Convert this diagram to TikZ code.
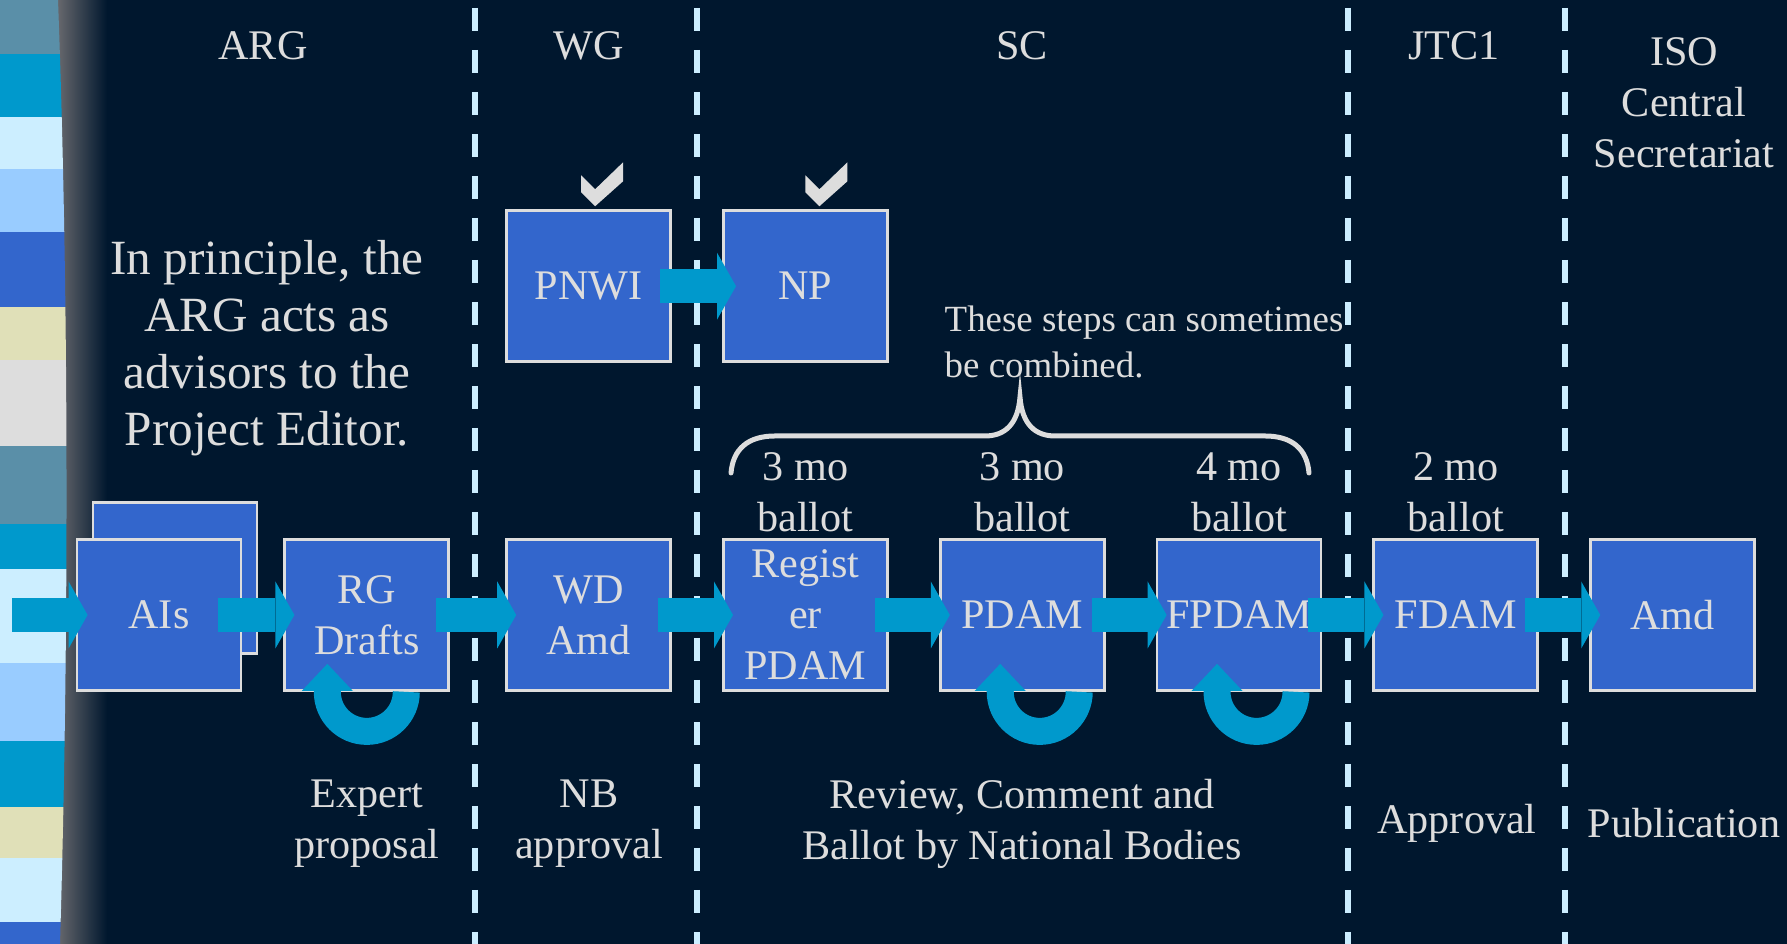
\documentclass[tikz,border=0pt]{standalone}
\usepackage{fontspec}
\setmainfont{Liberation Serif}
\usetikzlibrary{arrows.meta,positioning,calc}

\definecolor{isonavy}{HTML}{00172E}
\definecolor{isoshadow}{HTML}{6C6C70}
\definecolor{isoblue}{HTML}{3366CC}
\definecolor{isocyan}{HTML}{0099CC}
\definecolor{isopale}{HTML}{CCEEFF}
\definecolor{isolight}{HTML}{99CCFF}
\definecolor{isoslate}{HTML}{5A8FA8}
\definecolor{isobeige}{HTML}{E0E0B8}
\definecolor{isogray}{HTML}{DDDDDD}
\definecolor{isofg}{HTML}{DDDDDD}

\begin{document}
\begin{tikzpicture}[x=0.1mm,y=0.1mm,
    isobox/.style={draw=isogray,fill=isoblue,line width=0.8pt,inner sep=0pt,
        minimum width=16.4mm,minimum height=15.1mm,align=center,text=isofg,
        font=\fontsize{12}{14.5}\selectfont},
    isolabel/.style={text=isofg,align=center,inner sep=0pt,
        font=\fontsize{12}{14.5}\selectfont},
    isoarrow/.style={draw=isocyan,line width=3.4mm,
        -{Triangle[length=1.9mm,width=6.7mm,line width=0pt]}},
    isoloop/.style={draw=isocyan,line width=2.7mm,
        -{Triangle[length=2.7mm,width=5.1mm,line width=0pt]}},
    isodivider/.style={draw=isopale,line width=0.6mm,
        dash pattern=on 2.3mm off 1.9mm,dash phase=3.4mm},
    isocheck/.style={fill=isogray},
    isobrace/.style={draw=isogray,line width=0.5mm,line cap=round}
]
\useasboundingbox (0,0) rectangle (1787,944);
% background and side stripes
\fill[isonavy] (0,0) rectangle (1787,944);
\shade[left color=isoshadow,right color=isonavy] (55,0) rectangle (107,944);
\begin{scope}
\clip (0,0) -- (60,0) .. controls (69,300) and (69,650) .. (58,944) -- (0,944) -- cycle;
\fill[isoslate] (0,890) rectangle (70,944);
\fill[isocyan] (0,827) rectangle (70,890);
\fill[isopale] (0,775) rectangle (70,827);
\fill[isolight] (0,712) rectangle (70,775);
\fill[isoblue] (0,637) rectangle (70,712);
\fill[isobeige] (0,584) rectangle (70,637);
\fill[isogray] (0,498) rectangle (70,584);
\fill[isoslate] (0,420) rectangle (70,498);
\fill[isocyan] (0,375) rectangle (70,420);
\fill[isopale] (0,281) rectangle (70,375);
\fill[isolight] (0,203) rectangle (70,281);
\fill[isocyan] (0,137) rectangle (70,203);
\fill[isobeige] (0,86) rectangle (70,137);
\fill[isopale] (0,22) rectangle (70,86);
\fill[isoblue] (0,0) rectangle (70,22);
\end{scope}

% column dividers
\draw[isodivider] (475,944) -- (475,0);
\draw[isodivider] (697,944) -- (697,0);
\draw[isodivider] (1348,944) -- (1348,0);
\draw[isodivider] (1565,944) -- (1565,0);

% column heads
\node[isolabel] (arghead) at (263,898) {ARG};
\node[isolabel] (wghead) at (589,898) {WG};
\node[isolabel] (schead) at (1022,898) {SC};
\node[isolabel] (jtchead) at (1454,898) {JTC1};
\node[isolabel] (isohead) at (1684,841) {ISO\\Central\\Secretariat};

% stage boxes
\node[isobox] (aisback) at (175,366) {};
\node[isobox] (ais) at (159,329) {AIs};
\node[isobox,right=4.1mm of ais] (rg) {RG\\Drafts};
\node[isobox,right=5.5mm of rg] (wd) {WD\\Amd};
\node[isobox,right=5mm of wd] (reg) {Regist\\er\\PDAM};
\node[isobox,right=5mm of reg] (pdam) {PDAM};
\node[isobox,right=5mm of pdam] (fpdam) {FPDAM};
\node[isobox,right=5mm of fpdam] (fdam) {FDAM};
\node[isobox,right=5mm of fdam] (amd) {Amd};
\node[isobox,above=17.5mm of wd] (pnwi) {PNWI};
\node[isobox,right=5mm of pnwi] (np) {NP};

% ticks over the approved items
\fill[isocheck,shift={([xshift=0.65mm,yshift=0.3mm]pnwi.north)}]
    (-14,31) -- (0,17) -- (28,44) -- (28,25) -- (0,0) -- (-14,14) -- cycle;
\fill[isocheck,shift={([xshift=1.4mm,yshift=0.3mm]np.north)}]
    (-14,31) -- (0,17) -- (28,44) -- (28,25) -- (0,0) -- (-14,14) -- cycle;

% flow
\coordinate (entry) at (12,329);
\draw[isoarrow] (entry) -- ([xshift=1.2mm]ais.west);
\draw[isoarrow] ([xshift=-2.4mm]ais.east) -- ([xshift=1.1mm]rg.west);
\draw[isoarrow] ([xshift=-1.4mm]rg.east) -- ([xshift=1.1mm]wd.west);
\draw[isoarrow] ([xshift=-1.4mm]wd.east) -- ([xshift=1.1mm]reg.west);
\draw[isoarrow] ([xshift=-1.4mm]reg.east) -- ([xshift=1.1mm]pdam.west);
\draw[isoarrow] ([xshift=-1.4mm]pdam.east) -- ([xshift=1.1mm]fpdam.west);
\draw[isoarrow] ([xshift=-1.4mm]fpdam.east) -- ([xshift=1.1mm]fdam.west);
\draw[isoarrow] ([xshift=-1.4mm]fdam.east) -- ([xshift=1.1mm]amd.west);
\draw[isoarrow] ([xshift=-1.2mm]pnwi.east) -- ([xshift=1.4mm]np.west);

% revision loops
\draw[isoloop] ([xshift=3.95mm]rg.south)
    arc[start angle=0,end angle=-180,radius=3.95mm] -- ++(0,2.8mm);
\draw[isoloop] ([xshift=5.7mm]pdam.south)
    arc[start angle=0,end angle=-180,radius=3.95mm] -- ++(0,2.8mm);
\draw[isoloop] ([xshift=5.7mm]fpdam.south)
    arc[start angle=0,end angle=-180,radius=3.95mm] -- ++(0,2.8mm);

% ballot periods
\node[isolabel] (ballotreg) at (reg.center |- 0,452) {3 mo\\ballot};
\node[isolabel] (ballotpdam) at (pdam.center |- 0,452) {3 mo\\ballot};
\node[isolabel] (ballotfpdam) at (fpdam.center |- 0,452) {4 mo\\ballot};
\node[isolabel] (ballotfdam) at (fdam.center |- 0,452) {2 mo\\ballot};

\draw[isobrace] (731,471) .. controls (733,495) and (748,508) .. (775,508)
    -- (985,508) .. controls (1005,508) and (1018,520) .. (1020,547)
    .. controls (1022,520) and (1035,508) .. (1055,508)
    -- (1265,508) .. controls (1292,508) and (1307,495) .. (1309,471);
\node[isolabel,align=left,anchor=west,font=\fontsize{10.5}{13}\selectfont]
    (combined) at (944,602) {These steps can sometimes\\be combined.};

\node[isolabel,font=\fontsize{14}{16.2}\selectfont] (principle) at (267,596)
    {In principle, the\\ARG acts as\\advisors to the\\Project Editor.};

% what happens in each column
\node[isolabel] (expert) at (367,120) {Expert\\proposal};
\node[isolabel] (nb) at (589,120) {NB\\approval};
\node[isolabel] (review) at (1022,120) {Review, Comment and\\Ballot by National Bodies};
\node[isolabel] (approval) at (1457,121) {Approval};
\node[isolabel] (publication) at (1684,121) {Publication};
\end{tikzpicture}
\end{document}
